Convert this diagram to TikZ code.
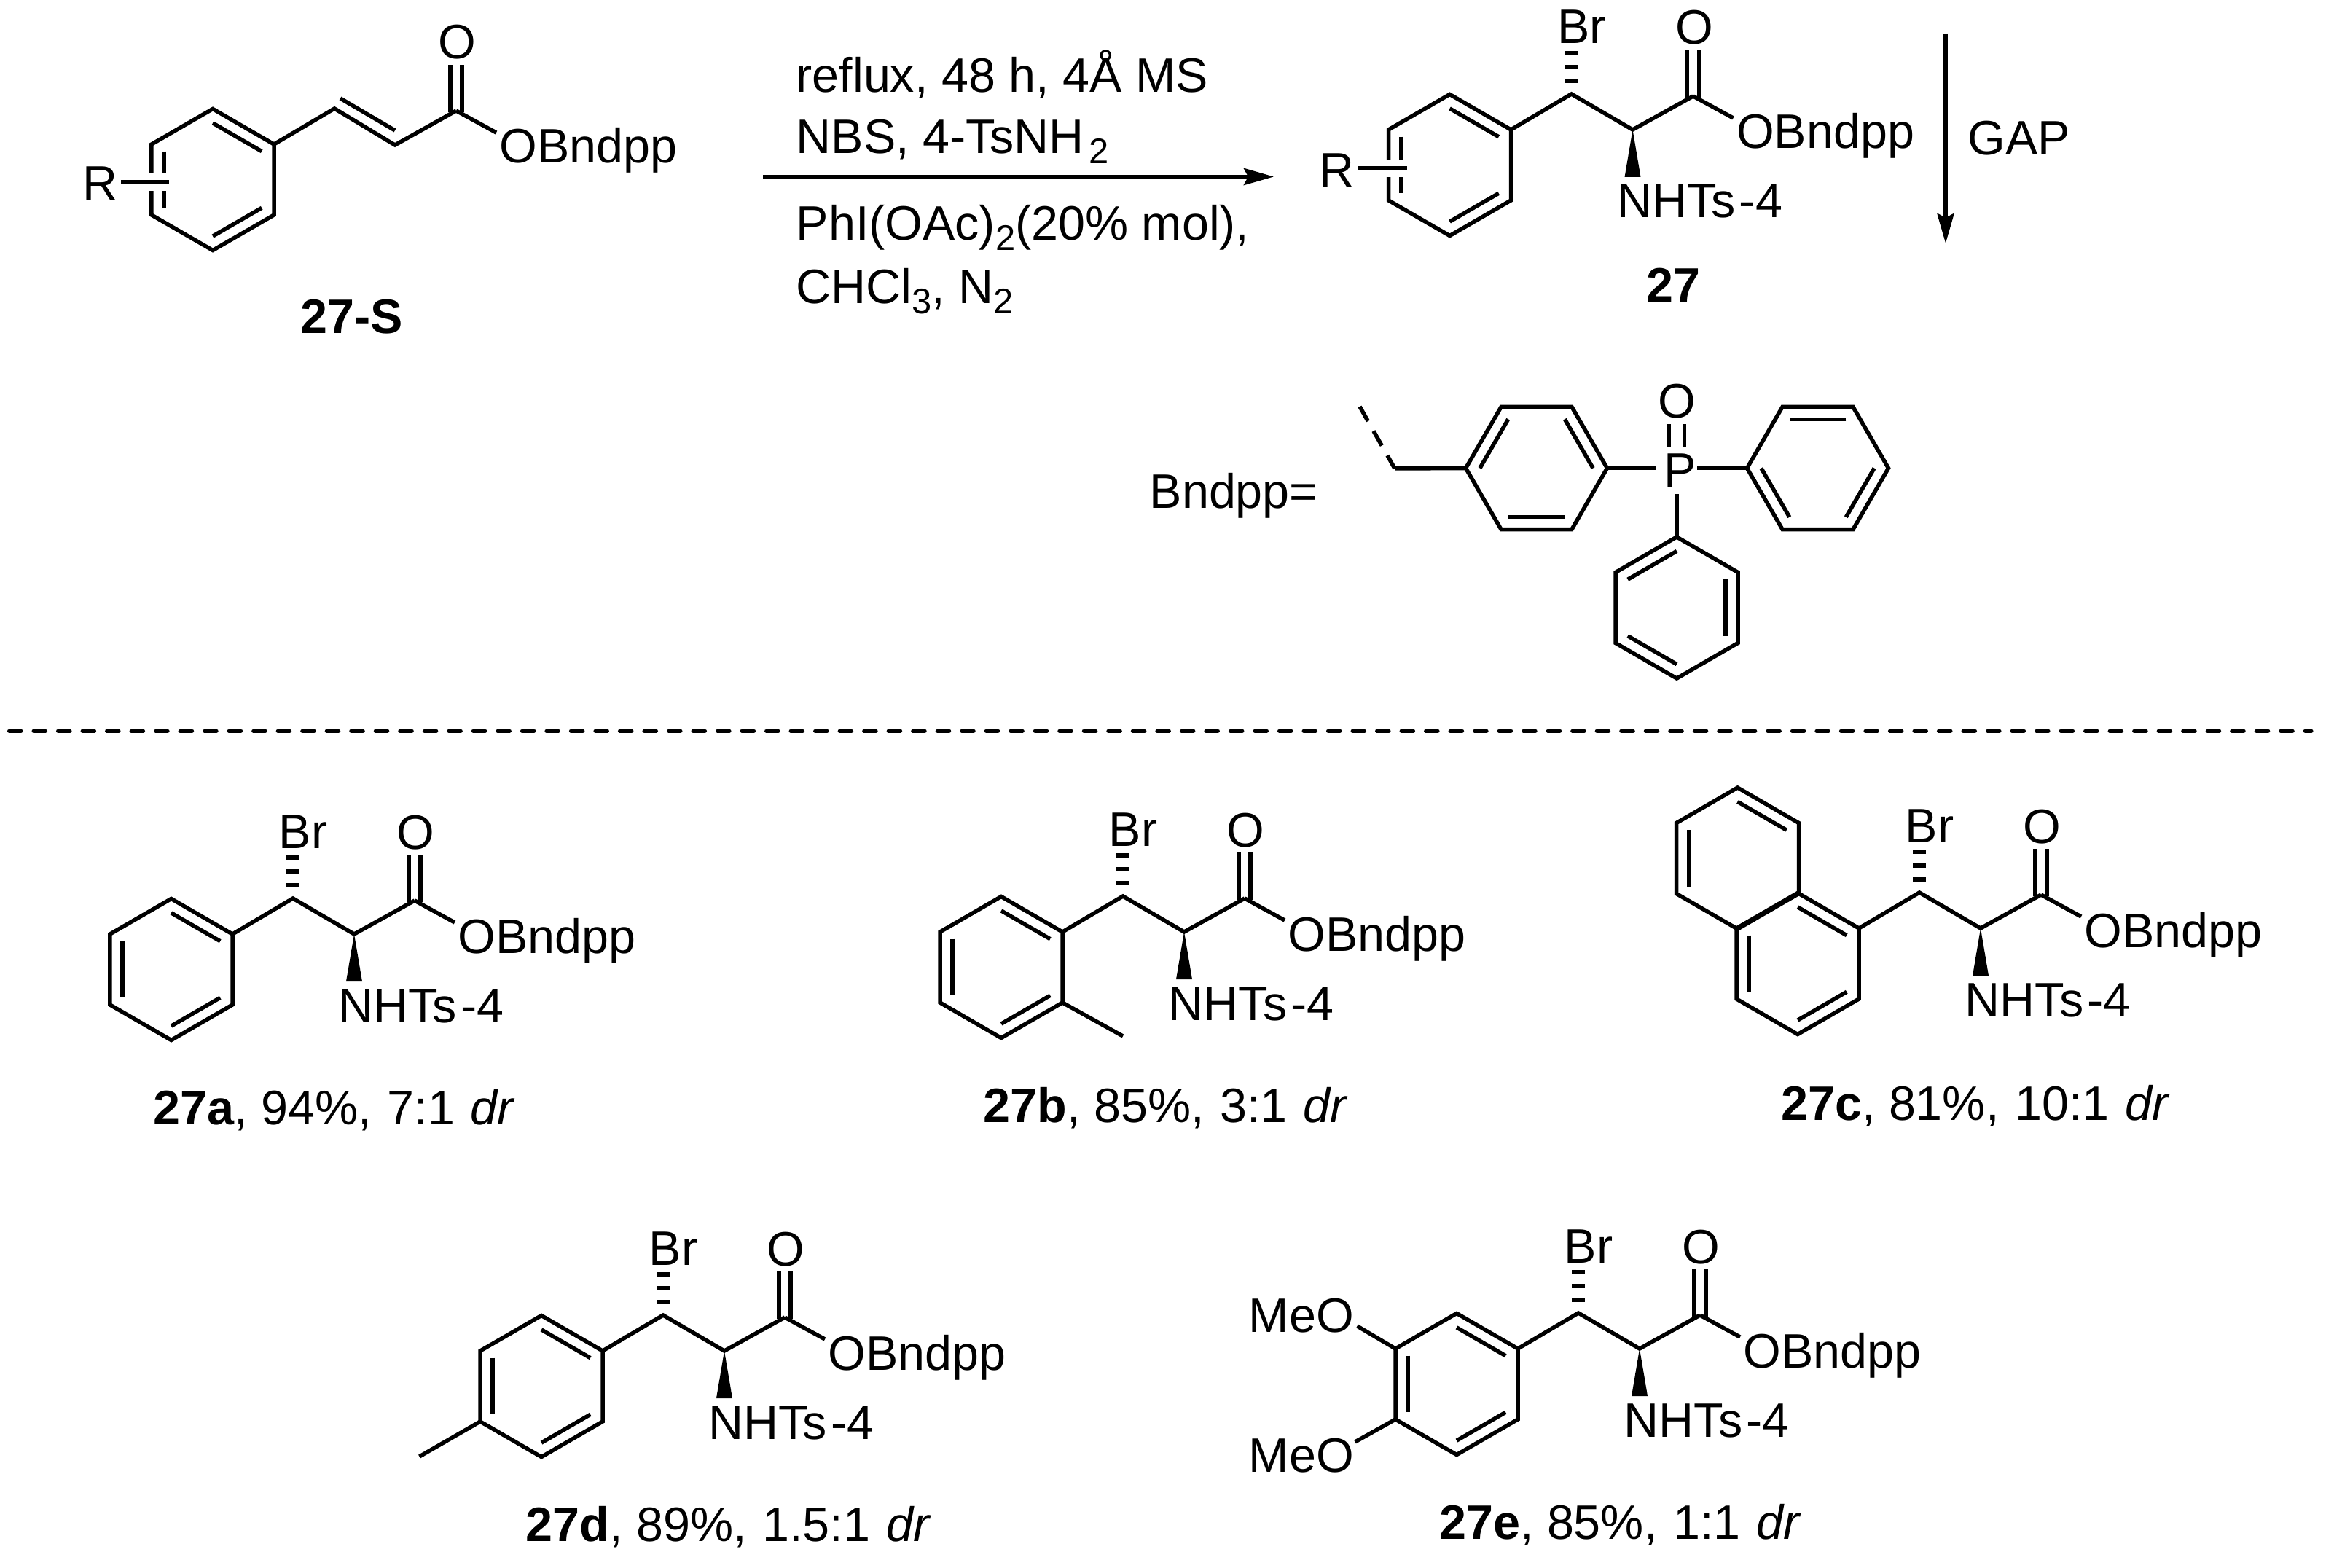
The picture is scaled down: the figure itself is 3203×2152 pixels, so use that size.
\documentclass[tikz,border=0pt]{standalone}
\usepackage{fontspec}
\setmainfont{Liberation Sans}
\usetikzlibrary{arrows.meta}
\usetikzlibrary{calc}
\tikzset{bond/.style={draw=black,line width=.055cm}}
\tikzset{lbl/.style={inner sep=0pt,anchor=base west,xshift=-.03cm}}
\tikzset{rxn/.style={bond,-{Stealth[length=.41cm,width=.23cm,inset=.06cm]}}}
% fixed end of a ring with its vertices: name, centre x, centre y, first angle
\newcommand{\ringat}[4]{%
  \coordinate (#1c) at (#2,#3);
  \foreach \vx [evaluate=\vx as \va using #4-60*(\vx-1)] in {1,...,6}{%
    \coordinate (#1\vx) at ($(#1c)+(\va:97)$);
  }
  \draw[bond] (#11) -- (#12) -- (#13) -- (#14) -- (#15) -- (#16) -- cycle;
}
\newcommand{\dbl}[3]{\draw[bond] ($(#1#2)!.2!(#1c)$) -- ($(#1#3)!.2!(#1c)$);}
\newcommand{\subs}[1]{\raisebox{-.21em}{\fontsize{13.9}{14}\selectfont #1}}
\newcommand{\gp}{\hspace{.05em}}
% C(=O)OBndpp hanging on atom k of the arm
\newcommand{\esterend}[1]{%
  \coordinate (#1k) at (250,-46);
  \coordinate (#1e) at (305,-16);
  \node[lbl] (#1dO) at (228,-117) {O};
  \node[lbl] (#1ob) at (312,26) {OBndpp};
  \draw[bond] (#1k) -- (#1e);
  \draw[bond] ($(#1k)+(-8,2)$) -- ++(0,-65);
  \draw[bond] ($(#1k)+(8,2)$) -- ++(0,-65);
}
\newcommand{\product}[3]{%
  \ringat{#1}{#2}{#3}{-30}
  \dbl{#1}{1}{2}
  \begin{scope}[shift={(#11)}]
    \coordinate (#1a) at (83,-49);
    \coordinate (#1b) at (167,0);
    \esterend{#1}
    \draw[bond] (0,0) -- (#1a) -- (#1b) -- (#1k);
    \node[lbl] (#1br) at (66,-118) {Br};
    \foreach \hy in {-67,-86,-105}
      \draw[line width=.055cm] (74,\hy) -- (92,\hy);
    \fill (#1b) -- ++(-11,65) -- ++(22,0) -- cycle;
    \node[lbl] (#1n) at (148,121) {NHTs\kern.08em-4};
  \end{scope}
}
\begin{document}
\begin{tikzpicture}[x=.01cm,y=-.01cm,every node/.style={font=\fontsize{18.9}{22}\selectfont}]
    \useasboundingbox (0,0) rectangle (3203,2152);

    % starting material
    \ringat{s}{292}{246.5}{-30}
    \dbl{s}{1}{2}
    \dbl{s}{5}{6}
    \dbl{s}{3}{4}
    \begin{scope}[shift={(s1)}]
      \coordinate (sa) at (83,-49);
      \coordinate (sb) at (166,1);
      \esterend{s}
      \draw[bond] (0,0) -- (sa) -- (sb) -- (sk);
      \draw[bond] (91,-63) -- (166,-19);
    \end{scope}
    \node[lbl] (sr) at (116,275) {R};
    \draw[bond,preaction={draw=white,line width=.24cm}] (166,250) -- (232,250);
    \node[lbl,font=\fontsize{18.9}{22}\selectfont\bfseries] (sname) at (415,458) {27-S};

    % conditions
    \coordinate (al) at (1047,242.5);
    \coordinate (ar) at (1748,242.5);
    \draw[rxn] (al) -- (ar);
    \node[lbl] (c1) at (1095,127) {reflux, 48 h, 4Å MS};
    \node[lbl] (c2) at (1095,211) {NBS, 4-TsNH\kern.1em\subs{2}};
    \node[lbl] (c3) at (1095,330) {PhI(OAc)\subs{2}(20\% mol),};
    \node[lbl] (c4) at (1095,417) {CHCl\subs{3}, N\subs{2}};

    % product and its substrates
    \foreach \nm/\cx/\cy in {p/1989.5/226.5,a/235/1330.5,b/1374/1327.5,c/2467/1322.5,d/743/1902.5,e/1999/1899.5}{%
      \product{\nm}{\cx}{\cy}
      \dbl{\nm}{3}{4}
      \dbl{\nm}{5}{6}
    }

    \node[lbl] (pr) at (1813,257) {R};
    \draw[bond,preaction={draw=white,line width=.24cm}] (1863,231) -- (1931,231);
    \node[lbl,font=\fontsize{18.9}{22}\selectfont\bfseries] (pname) at (2262,415) {27};

    % GAP
    \coordinate (gt) at (2670,46);
    \coordinate (gb) at (2670,334);
    \draw[rxn] (gt) -- (gb);
    \node[lbl] (gap) at (2703,213) {GAP};

    % Bndpp group
    \node[lbl] (bn) at (1580,697) {Bndpp=};
    \ringat{u}{2108.5}{642.5}{0}
    \dbl{u}{1}{2}
    \dbl{u}{3}{4}
    \dbl{u}{5}{6}
    \ringat{v}{2494.5}{642.5}{0}
    \dbl{v}{2}{3}
    \dbl{v}{4}{5}
    \dbl{v}{6}{1}
    \ringat{w}{2301}{834}{-30}
    \dbl{w}{2}{3}
    \dbl{w}{4}{5}
    \dbl{w}{6}{1}
    \coordinate (ch) at (1914,643);
    \coordinate (wv) at (1866,558);
    \draw[bond,dash pattern=on .23cm off .155cm] (wv) -- (ch);
    \draw[bond] (ch) -- (u4);
    \node[lbl] (po) at (2286,668) {P};
    \node[lbl] (oo) at (2278,573) {O};
    \draw[bond] (u1) -- (2273,642.5);
    \draw[bond] (2329,642.5) -- (v4);
    \draw[bond] (2301,678) -- (w2);
    \draw[bond] (2290.5,582) -- (2290.5,613);
    \draw[bond] (2311.5,582) -- (2311.5,613);

    % divider
    \coordinate (dl) at (12.5,1003);
    \coordinate (dr) at (3172,1003);
    \draw[line width=.05cm,line cap=round,dash pattern=on .165cm off .17cm] (dl) -- (dr);

    % extras on the rings
    \draw[bond] (b6) -- (1541,1422);
    \draw[bond] (d4) -- (575.5,1999);
    \ringat{n}{2384.5}{1178}{-30}
    \dbl{n}{1}{2}
    \dbl{n}{3}{4}
    \node[lbl] (m1) at (1716,1828) {MeO};
    \node[lbl] (m2) at (1716,2020) {MeO};
    \draw[bond] (e3) -- (1862.5,1820);
    \draw[bond] (e4) -- (1859.5,1979);

    % Labels
    \node[lbl] (na) at (213,1543) {\textbf{27a}, 94\%,\gp{} 7:1\gp{} \textit{dr}};
    \node[lbl] (nb) at (1352,1540) {\textbf{27b}, 85\%,\gp{} 3:1\gp{} \textit{dr}};
    \node[lbl] (nc) at (2446.5,1537) {\textbf{27c}, 81\%,\gp{} 10:1\gp{} \textit{dr}};
    \node[lbl] (nd) at (724,2115) {\textbf{27d}, 89\%,\gp{} 1.5:1\gp{} \textit{dr}};
    \node[lbl] (ne) at (1977.5,2112) {\textbf{27e}, 85\%,\gp{} 1:1\gp{} \textit{dr}};
\end{tikzpicture}
\end{document}
